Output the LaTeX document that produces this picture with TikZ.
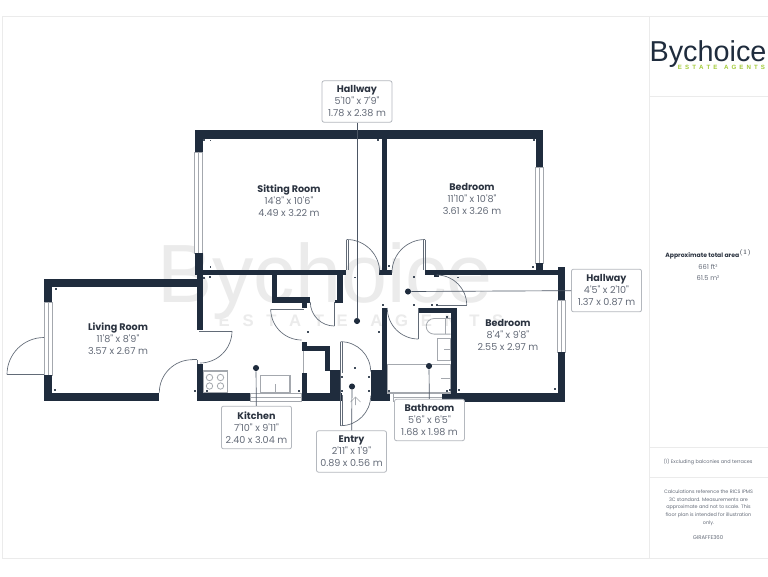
\documentclass[tikz,border=0pt]{standalone}
\usepackage{fontspec}
\setmainfont{Poppins}[Ligatures=TeXOff]
\newfontfamily\logofont{Liberation Sans}
\definecolor{wallc}{HTML}{1F2C3D}
\definecolor{namec}{HTML}{2B3340}
\definecolor{dimc}{HTML}{646B78}
\definecolor{framec}{HTML}{EBEBEB}
\definecolor{boxc}{HTML}{B4B8BE}
\definecolor{markc}{HTML}{A4A8AE}
\definecolor{wmc}{HTML}{EBEBEB}
\definecolor{greenc}{HTML}{A3CB38}
\tikzset{
 wall/.style={fill=wallc,draw=none},
 win/.style={fill=white,draw=markc,line width=0.6pt},
 doorline/.style={draw=wallc!70,line width=0.5pt},
 fixt/.style={draw=markc,line width=0.8pt,fill=white},
 leader/.style={draw=wallc!80,line width=0.5pt},
 dot/.style={circle,fill=wallc,inner sep=0pt,minimum size=4.6pt},
 lab/.style={draw=boxc,rounded corners=1.5pt,fill=white,line width=0.6pt,minimum width=52.5pt,align=center,inner sep=0pt,font=\fontsize{7.2pt}{9pt}\selectfont,text=dimc},
 roomlab/.style={align=center,font=\fontsize{7.2pt}{9pt}\selectfont,text=dimc},
 panel/.style={align=center,text=dimc}
}
\newcommand{\rname}[1]{{\fontsize{7.2pt}{9pt}\selectfont\bfseries\color{namec}#1}}
\begin{document}
\begin{tikzpicture}[x=0.75pt,y=-0.75pt]
\useasboundingbox (0,0) rectangle (768,576);
\fill[white] (0,0) rectangle (768,576);
% frame
\draw[framec,line width=0.6pt] (2,16.5) -- (768,16.5);
\draw[framec,line width=0.6pt] (2,16.5) -- (2,558) -- (768,558);
\draw[framec,line width=0.6pt] (649,16.5) -- (649,558);
\draw[framec,line width=0.6pt] (649,96) -- (768,96);
\draw[framec,line width=0.6pt] (649,447) -- (768,447);
\draw[framec,line width=0.6pt] (649,477) -- (768,477);
% watermark
\node (wm1) [anchor=center,text=wmc,font=\logofont\fontsize{62pt}{62pt}\selectfont] at (325,281) {Bychoice};
\node (wm2) [anchor=center,text=wmc,font=\logofont\bfseries\fontsize{12.5pt}{13pt}\selectfont] at (361,321) {E\hspace{9.5pt}S\hspace{9.5pt}T\hspace{9.5pt}A\hspace{9.5pt}T\hspace{9.5pt}E\hspace{17pt}A\hspace{9.5pt}G\hspace{9.5pt}E\hspace{9.5pt}N\hspace{9.5pt}T\hspace{9.5pt}S};
% windows
\draw[win] (194.5,152) rectangle (202.5,253);
\draw[markc,line width=0.5pt] (198.5,152) -- (198.5,253);
\draw[win] (535.5,167) rectangle (543,263);
\draw[markc,line width=0.5pt] (539.5,167) -- (539.5,263);
\draw[win] (557.7,300) rectangle (565,352);
\draw[markc,line width=0.5pt] (561.5,300) -- (561.5,352);
\draw[win] (44,302) rectangle (52,375);
\draw[markc,line width=0.5pt] (48,302) -- (48,375);
\draw[win] (250,393) rectangle (301.7,401);
\draw[markc,line width=0.5pt] (250,397) -- (301.7,397);
\draw[win] (393,393) rectangle (442,401);
\draw[markc,line width=0.5pt] (393,397) -- (442,397);
% walls
\fill[wall] (194.5,130) rectangle (543,138.5);
\fill[wall] (194.5,130) rectangle (202.5,152);
\fill[wall] (194.5,253) rectangle (202.5,275);
\fill[wall] (201,270) rectangle (346,275.3);
\fill[wall] (381.5,138) rectangle (386.5,270);
\fill[wall] (379.3,270) rectangle (392.3,275.3);
\fill[wall] (535.5,130) rectangle (543,167);
\fill[wall] (535.5,263) rectangle (543,270);
\fill[wall] (425,270) rectangle (565,275.3);
\fill[wall] (557.7,267.3) rectangle (565,300);
\fill[wall] (557.7,352) rectangle (565,401.5);
\fill[wall] (442,393) rectangle (565,401.5);
\fill[wall] (450.7,307.7) rectangle (457.3,395);
\fill[wall] (419,307.7) rectangle (457.3,313.3);
\fill[wall] (44,279) rectangle (200,286.7);
\fill[wall] (44,279) rectangle (52,302);
\fill[wall] (44,375) rectangle (52,401);
\fill[wall] (44,392.7) rectangle (159.3,401);
\fill[wall] (197.3,275) rectangle (202.7,330);
\fill[wall] (197,364) rectangle (202.7,401);
\fill[wall] (197,393) rectangle (250,401);
\fill[wall] (301.7,373) rectangle (307.3,401);
\fill[wall] (301.7,393) rectangle (341.7,401);
\fill[wall] (330,370) rectangle (340,401);
\fill[wall] (325,346) rectangle (330,371);
\fill[wall] (301.7,346) rectangle (330,351);
\fill[wall] (301.7,342) rectangle (307.3,351);
\fill[wall] (370.7,370) rectangle (390,401);
\fill[wall] (381.7,308) rectangle (386.7,371);
\fill[wall] (337.3,275) rectangle (343.3,302.7);
\fill[wall] (335,300) rectangle (343.3,302.7);
\fill[wall] (271.7,275) rectangle (277.3,303);
\fill[wall] (271.7,297.3) rectangle (310,303.3);
\fill[wall] (301.7,303) rectangle (307.3,308);
\fill[wall] (434,275) rectangle (439,276.5);
% doors
\draw[doorline] (7,374.5) -- (44,374.5);
\draw[doorline] (7,374.5) arc[start angle=180,end angle=270,radius=37];
\draw[doorline] (159.3,392.7) arc[start angle=180,end angle=270,radius=33];
\draw[doorline] (192.3,359.7) -- (197,359.7);
\draw[doorline] (197,359.7) -- (197,364);
\draw[doorline] (232,331) -- (199,331);
\draw[doorline] (232,331) arc[start angle=0,end angle=90,radius=32];
\draw[doorline] (270.7,309) -- (304,309);
\draw[doorline] (270.7,309) arc[start angle=180,end angle=90,radius=31];
\draw[doorline] (334.3,302) -- (334.3,326);
\draw[doorline] (334.3,326) arc[start angle=90,end angle=180,radius=24];
\draw[doorline] (346.7,239.5) -- (346.7,270);
\draw[doorline] (348.4,240) -- (348.4,270);
\draw[doorline] (346.7,239.5) arc[start angle=-90,end angle=0,radius=33];
\draw[doorline] (425,239.5) -- (425,270);
\draw[doorline] (423.3,240) -- (423.3,270);
\draw[doorline] (425,239.5) arc[start angle=-90,end angle=-180,radius=33];
\draw[doorline] (436.7,305) -- (466.7,305);
\draw[doorline] (436.7,275) arc[start angle=-90,end angle=0,radius=30];
\draw[doorline] (418.3,308) -- (418.3,339);
\draw[doorline] (418.3,339) arc[start angle=90,end angle=180,radius=31];
\draw[doorline] (340.7,341.7) -- (340.7,425.7);
\draw[doorline] (342.4,341.7) -- (342.4,373);
\draw[doorline] (342.4,395) -- (342.4,425.7);
\draw[doorline] (340.7,341.7) arc[start angle=-90,end angle=0,radius=30];
\draw[doorline] (340.7,425.7) arc[start angle=90,end angle=0,radius=30];
\draw[markc,line width=0.6pt] (303.5,351) -- (303.5,373);
% fixtures
\draw[fixt] (203.5,371) rectangle (227.5,392.7);
\foreach \cx/\cy in {209.5/377.5,220.5/377.5,209.5/386,220.5/386} \draw[markc,line width=0.6pt] (\cx,\cy) circle[radius=3.2];
\draw[fixt] (260.7,375.5) rectangle (290,393);
\draw[markc,line width=0.5pt] (275.3,384) -- (275.3,393);
\draw[fixt] (437.3,338.3) rectangle (450.7,360.7);
\draw[markc,line width=0.5pt] (444,349.5) -- (450.7,349.5);
\draw[fixt] (387.3,364.3) rectangle (450.7,393);
\draw[markc,line width=0.5pt] (441,378.5) -- (450.7,378.5);
\draw[markc,line width=0.6pt] (450.7,318.5) -- (434,318.5) arc[start angle=-90,end angle=-270,radius=7.8] -- (450.7,334.1);
\draw[markc,line width=0.5pt] (445,318.5) -- (445,334.1);
% arrow in entry
\draw[markc,line width=0.5pt] (355.5,405) -- (355.5,397) (350.5,402) -- (355.5,397) -- (360.5,402);
% small measuring marks
\foreach \mx/\my in {204/140,210.7/140.7,378/140,534/140,533/267,210.7/267,389/266,355/277.5,414/277,458/277.5,204/278,210/277,308/332,379/332,355/368,342/377,369/377,342/391,369/391,389/391,299/391,195/391,207/391,383/305,414/305,432/305,437/305,450/390,459/390,447/317,56/289,55/390,447/391,555/389}
  \fill[wallc!85] (\mx-0.7,\my-0.7) rectangle (\mx+0.7,\my+0.7);
% leaders and labels
\node (dotA) [dot] at (357,321) {};
\node (dotB) [dot] at (256,368) {};
\node (dotC) [dot] at (352,386.5) {};
\node (dotD) [dot] at (429,366) {};
\node (dotE) [dot] at (408,291.5) {};
\node (labA) [lab,minimum height=31pt] at (357,101.5) {\rname{Hallway}\\5'10" x 7'9"\\1.78 x 2.38 m};
\node (labB) [lab,minimum height=32pt] at (256.5,427.5) {\rname{Kitchen}\\7'10" x 9'11"\\2.40 x 3.04 m};
\node (labC) [lab,minimum height=31pt] at (351.5,451.5) {\rname{Entry}\\2'11" x 1'9"\\0.89 x 0.56 m};
\node (labD) [lab,minimum height=31pt] at (429.5,420) {\rname{Bathroom}\\5'6" x 6'5"\\1.68 x 1.98 m};
\node (labE) [lab,minimum height=32pt] at (606.5,290.5) {\rname{Hallway}\\4'5" x 2'10"\\1.37 x 0.87 m};
\draw[leader] (labA) -- (dotA);
\draw[leader] (labB) -- (dotB);
\draw[leader] (labC) -- (dotC);
\draw[leader] (labD) -- (dotD);
\draw[leader] (labE) -- (dotE);
\node (r1) [roomlab] at (289,201) {\rname{Sitting Room}\\14'8" x 10'6"\\4.49 x 3.22 m};
\node (r2) [roomlab] at (472,199) {\rname{Bedroom}\\11'10" x 10'8"\\3.61 x 3.26 m};
\node (r3) [roomlab] at (118,339) {\rname{Living Room}\\11'8" x 8'9"\\3.57 x 2.67 m};
\node (r4) [roomlab] at (508,335) {\rname{Bedroom}\\8'4" x 9'8"\\2.55 x 2.97 m};
% panel
\node (logo) [anchor=center,text=wallc,font=\logofont\fontsize{21.6pt}{22pt}\selectfont] at (708,54) {Bychoice};
\node (logo2) [anchor=center,text=greenc,font=\logofont\bfseries\fontsize{4.6pt}{5pt}\selectfont] at (721.5,67.5) {E\hspace{2.3pt}S\hspace{2.3pt}T\hspace{2.3pt}A\hspace{2.3pt}T\hspace{2.3pt}E\hspace{5pt}A\hspace{2.3pt}G\hspace{2.3pt}E\hspace{2.3pt}N\hspace{2.3pt}T\hspace{2.3pt}S};
\node (p1) [panel,font=\fontsize{4.6pt}{6pt}\selectfont\bfseries,text=namec] at (708.5,254.5) {Approximate total area$^{\scriptscriptstyle(1)}$};
\node (p2) [panel,font=\fontsize{5pt}{8.25pt}\selectfont] at (708,272.5) {661 ft²\\61.5 m²};
\node (p3) [panel,font=\fontsize{3.7pt}{6pt}\selectfont] at (708,462) {(1) Excluding balconies and terraces};
\node (p4) [panel,font=\fontsize{3.65pt}{5.8pt}\selectfont] at (708.5,507.5) {Calculations reference the RICS IPMS\\3C standard. Measurements are\\approximate and not to scale. This\\floor plan is intended for illustration\\only.};
\node (p5) [panel,font=\fontsize{4pt}{6pt}\selectfont] at (708,538) {GIRAFFE360};
\end{tikzpicture}
\end{document}
